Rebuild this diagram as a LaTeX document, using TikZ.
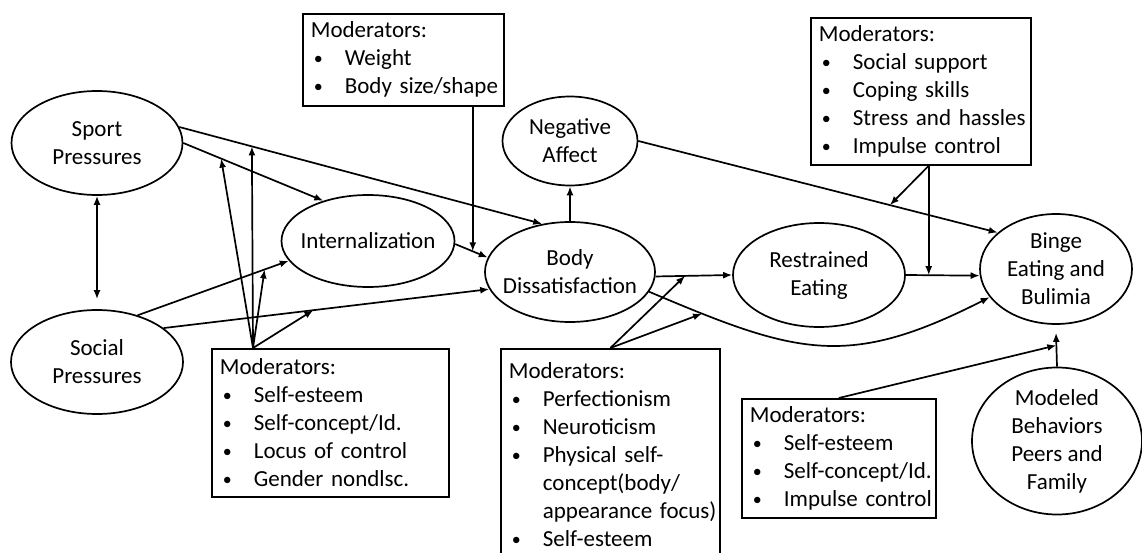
\documentclass[tikz,border=0pt]{standalone}
\usepackage{fontspec}
\setmainfont{Carlito}
\usetikzlibrary{shapes.geometric,arrows.meta,calc}

\newcommand{\moditem}[1]{\mbox{\makebox[34pt][l]{\hspace{3pt}\raisebox{1pt}{\fontsize{18}{18}\selectfont\textbullet}}#1}}
\newcommand{\modcont}[1]{\mbox{\hspace*{34pt}#1}}

\tikzset{
  factor/.style={draw, ellipse, line width=1.7pt, inner xsep=-9pt, inner ysep=-4pt, align=center},
  modbox/.style={draw, rectangle, line width=1.7pt, anchor=north west, inner xsep=8pt, inner ysep=0pt, align=left},
  link/.style={line width=1.7pt, ->},
}

\begin{document}
\begin{tikzpicture}[x=1pt, y=-1pt, font=\fontsize{23}{28}\selectfont,
  >={Latex[length=9pt,width=7pt]}]
\useasboundingbox (0,0) rectangle (1142,553);
\clip (0,0) rectangle (1142,553);

\node[factor, minimum width=171, minimum height=104] (sport) at (97,143) {Sport\\Pressures};
\node[factor, minimum width=172, minimum height=104] (social) at (97,362) {Social\\Pressures};
\node[factor, minimum width=173, minimum height=92] (intl) at (368,241) {Internalization};
\node[factor, minimum width=170, minimum height=100] (body) at (570,272) {Body\\Dissatisfaction};
\node[factor, minimum width=135, minimum height=89] (neg) at (570,141) {Negative\\Affect};
\node[factor, minimum width=172, minimum height=104] (rest) at (819,275) {Restrained\\Eating};
\node[factor, minimum width=152, minimum height=110] (binge) at (1056,269) {Binge\\Eating and\\Bulimia};
\node[factor, minimum width=170, minimum height=147] (model) at (1057,441) {Modeled\\Behaviors\\Peers and\\Family};

\node[modbox, text width=185, minimum height=92] (modbody) at (302,13)
  {Moderators:\\ \moditem{Weight}\\ \moditem{Body size/shape}};
\node[modbox, text width=204, minimum height=147] (modcope) at (810,17)
  {Moderators:\\ \moditem{Social support}\\ \moditem{Coping skills}\\ \moditem{Stress and hassles}\\ \moditem{Impulse control}};
\node[modbox, text width=221, minimum height=148] (modself) at (211,348)
  {Moderators:\\ \moditem{Self-esteem}\\ \moditem{Self-concept/Id.}\\ \moditem{Locus of control}\\ \moditem{Gender nondlsc.}};
\node[modbox, text width=203, minimum height=212] (modpers) at (500,348)
  {Moderators:\\ \moditem{Perfectionism}\\ \moditem{Neuroticism}\\ \moditem{Physical self-}\\ \modcont{concept(body/}\\ \modcont{appearance focus)}\\ \moditem{Self-esteem}};
\node[modbox, text width=178, minimum height=119] (modimp) at (741,398)
  {Moderators:\\ \moditem{Self-esteem}\\ \moditem{Self-concept/Id.}\\ \moditem{Impulse control}};

% paths between the factors
\draw[link, <->, shorten >=10pt] (sport.south) -- (social.north);
\draw[link] (sport.east) -- coordinate[pos=0.27] (spin) (intl.138);
\draw[link] (sport.11) -- coordinate[pos=0.2] (spbd) (body.120);
\draw[link] (social.49) -- coordinate[pos=0.84] (soin) (intl.194);
\draw[link] (social.27) -- coordinate[pos=0.46] (sobd) (body.192);
\draw[link] (intl.-2) -- coordinate[pos=0.54] (inbd) (body.170);
\draw[link] (body.north) -- (neg.south);
\draw[link] (neg.east) -- coordinate[pos=0.7] (negb) (binge.148);
\draw[link] (body.-3) -- coordinate[pos=0.385] (bdre) (rest.west);
\draw[link] (rest.east) -- coordinate[pos=0.31] (reb) (binge.185);
\draw[link] (body.-14) to[out=-23, in=207, looseness=1.2] coordinate[pos=0.13] (bdbc) (binge.203);
\draw[link] (model.north) -- coordinate[pos=0.63] (mob) ([yshift=-8pt]binge.south);

% moderator arrows
\coordinate (selfsrc) at ($(modself.north west)+(42,0)$);
\draw[link] (modbody.south -| inbd) -- (inbd);
\draw[link] (modcope.south -| reb) -- (negb);
\draw[link] (modcope.south -| reb) -- (reb);
\draw[link] (selfsrc) -- (spin);
\draw[link] (selfsrc) -- (spbd);
\draw[link] (selfsrc) -- (soin);
\draw[link] (selfsrc) -- (sobd);
\draw[link] (modpers.north) -- (bdre);
\draw[link] (modpers.north) -- (bdbc);
\draw[link] (modimp.north) -- (mob);
\end{tikzpicture}
\end{document}
